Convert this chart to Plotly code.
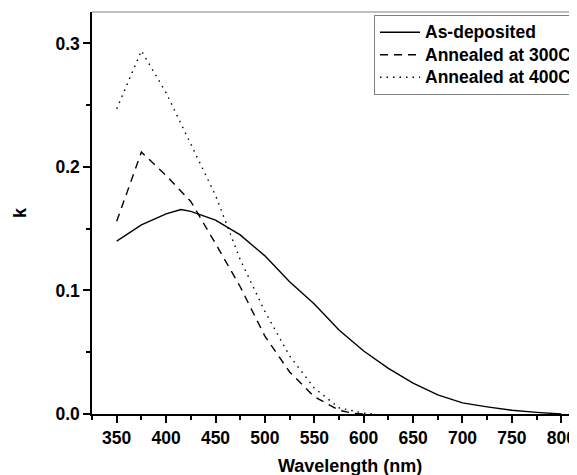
import plotly.graph_objects as go

# wavelength (nm) and extinction coefficient k
wl_asdep = [350, 375, 400, 415, 425, 450, 475, 500, 525, 550, 575, 600, 625, 650, 675, 700, 725, 750, 775, 800]
k_asdep = [0.140, 0.153, 0.162, 0.1655, 0.164, 0.157, 0.145, 0.128, 0.107, 0.089, 0.068, 0.051,
           0.037, 0.025, 0.0155, 0.009, 0.0058, 0.0030, 0.0013, 0.0]

wl_300 = [350, 375, 400, 425, 450, 475, 500, 525, 550, 575, 590, 600]
k_300 = [0.156, 0.212, 0.193, 0.172, 0.138, 0.103, 0.063, 0.034, 0.014, 0.003, 0.0005, 0.0]

wl_400 = [350, 375, 400, 425, 450, 475, 500, 525, 550, 575, 600, 610]
k_400 = [0.247, 0.294, 0.260, 0.218, 0.177, 0.125, 0.083, 0.047, 0.021, 0.005, 0.0007, 0.0]

series = [
    ("As-deposited", wl_asdep, k_asdep, "solid"),
    ("Annealed at 300C", wl_300, k_300, "8px,6px"),
    ("Annealed at 400C", wl_400, k_400, "1.5px,5px"),
]

font_family = "Arial, Liberation Sans, sans-serif"

fig = go.Figure()
for name, x, y, dash in series:
    # bigger span inside a smaller legend font keeps the rows tight like the original
    fig.add_trace(go.Scatter(x=x, y=y, name=f'<span style="font-size:17.5px">{name}</span>',
                             mode="lines", line=dict(color="black", width=1.4, dash=dash)))

axis_common = dict(
    automargin=False,
    showgrid=False, zeroline=False,
    showline=True, linecolor="black", linewidth=1.5,
    ticks="outside", ticklen=7, tickwidth=1.5, tickcolor="black",
    tickfont=dict(family=font_family, size=17.5, color="black", weight="bold"),
)

fig.update_xaxes(
    range=[325, 824], tick0=350, dtick=50,
    minor=dict(dtick=25, ticks="outside", ticklen=4, tickwidth=1.5, tickcolor="black"),
    **axis_common,
)
fig.update_yaxes(
    range=[0, 0.3254], tick0=0, dtick=0.1, tickformat=".1f",
    minor=dict(dtick=0.05, ticks="outside", ticklen=4, tickwidth=1.5, tickcolor="black"),
    title=dict(text="k", standoff=24, font=dict(family=font_family, size=18, color="black", weight="bold")),
    **axis_common,
)

fig.update_layout(
    width=577, height=475,
    # page body adds an 8px offset; the original is also cropped on the right
    margin=dict(l=84, r=0, t=4, b=69, autoexpand=False),
    paper_bgcolor="white", plot_bgcolor="white",
    font=dict(family=font_family, color="black"),
    showlegend=True,
    legend=dict(
        x=0.572, y=0.9926, xanchor="left", yanchor="top",
        bgcolor="white", bordercolor="#808080", borderwidth=1,
        font=dict(family=font_family, size=15, color="black", weight="bold"),
        itemwidth=40, tracegroupgap=0,
    ),
    shapes=[dict(type="line", xref="paper", yref="paper", x0=0, x1=1, y0=1, y1=1,
                 line=dict(color="#808080", width=1.2))],
    annotations=[dict(text="Wavelength (nm)", xref="paper", yref="paper",
                      x=0.523, y=-0.129, xanchor="center", yanchor="middle", showarrow=False,
                      font=dict(family=font_family, size=18, color="black", weight="bold"))],
)

fig.write_html("out.html")
